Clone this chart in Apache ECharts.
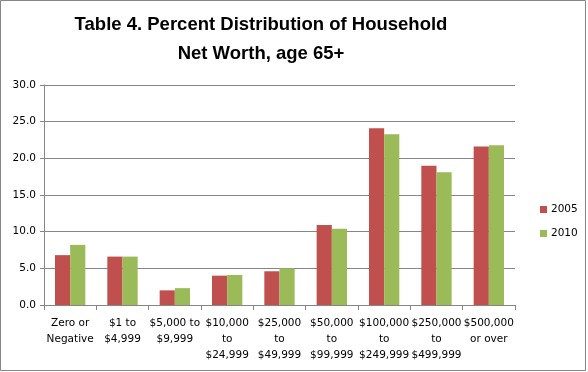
<!DOCTYPE html>
<html>
<head>
<meta charset="utf-8">
<script src="https://cdn.jsdelivr.net/npm/echarts@6/dist/echarts.min.js"></script>
<style>
html,body{margin:0;padding:0;background:#fff;}
#chart{width:588px;height:372px;}
</style>
</head>
<body>
<div id="chart"></div>
<script>
const titleLines = ['Table 4. Percent Distribution of Household', 'Net Worth, age 65+'];
const categories = ['Zero or\nNegative', '$1 to\n$4,999', '$5,000 to\n$9,999', '$10,000\nto\n$24,999', '$25,000\nto\n$49,999', '$50,000\nto\n$99,999', '$100,000\nto\n$249,999', '$250,000\nto\n$499,999', '$500,000\nor over'];
const seriesNames = ['2005', '2010'];
const values2005 = [6.8, 6.6, 2.0, 4.0, 4.6, 10.9, 24.1, 19.0, 21.6];
const values2010 = [8.2, 6.6, 2.3, 4.1, 5.0, 10.4, 23.3, 18.1, 21.8];
const yTicks = {min: 0, max: 30, interval: 5};

const chart = echarts.init(document.getElementById('chart'), null, {renderer: 'canvas'});
const axisGray = '#868686';
const font = 'DejaVu Sans';
const titleFont = 'bold 18.5px "Liberation Sans"';
chart.setOption({
  animation: false,
  backgroundColor: '#fff',
  graphic: [
    {type: 'rect', shape: {x: 0.5, y: 0.5, width: 585, height: 370}, style: {fill: 'none', stroke: '#868686', lineWidth: 1}, silent: true},
    {type: 'text', style: {text: titleLines[0], x: 261, y: 34, textAlign: 'center', textVerticalAlign: 'bottom', font: titleFont, fill: '#000'}},
    {type: 'text', style: {text: titleLines[1], x: 261, y: 63, textAlign: 'center', textVerticalAlign: 'bottom', font: titleFont, fill: '#000'}}
  ],
  grid: {left: 44, right: 73, top: 85, bottom: 67, containLabel: false},
  legend: {
    orient: 'vertical', left: 535, top: 199,
    itemWidth: 7, itemHeight: 7, itemGap: 13, icon: 'rect',
    textStyle: {fontFamily: font, fontSize: 10.5, color: '#000', padding: [0,0,0,-1]},
    data: seriesNames
  },
  xAxis: {
    type: 'category', data: categories,
    axisLine: {lineStyle: {color: axisGray, width: 1}},
    axisTick: {show: true, length: 5, lineStyle: {color: axisGray}},
    axisLabel: {interval: 0, fontFamily: font, fontSize: 10.5, color: '#000', lineHeight: 16, margin: 10}
  },
  yAxis: {
    type: 'value', min: yTicks.min, max: yTicks.max, interval: yTicks.interval,
    axisLine: {show: true, lineStyle: {color: axisGray}},
    axisTick: {show: true, length: 4, lineStyle: {color: axisGray}},
    splitLine: {lineStyle: {color: axisGray, width: 1}},
    axisLabel: {fontFamily: font, fontSize: 10.5, color: '#000', margin: 8, formatter: v => v.toFixed(1)}
  },
  series: [
    {name: seriesNames[0], type: 'bar', data: values2005, itemStyle: {color: '#C0504D'}, barGap: '0%', barCategoryGap: '42%'},
    {name: seriesNames[1], type: 'bar', data: values2010, itemStyle: {color: '#9BBB59'}, barGap: '0%', barCategoryGap: '42%'}
  ]
});
</script>
</body>
</html>
